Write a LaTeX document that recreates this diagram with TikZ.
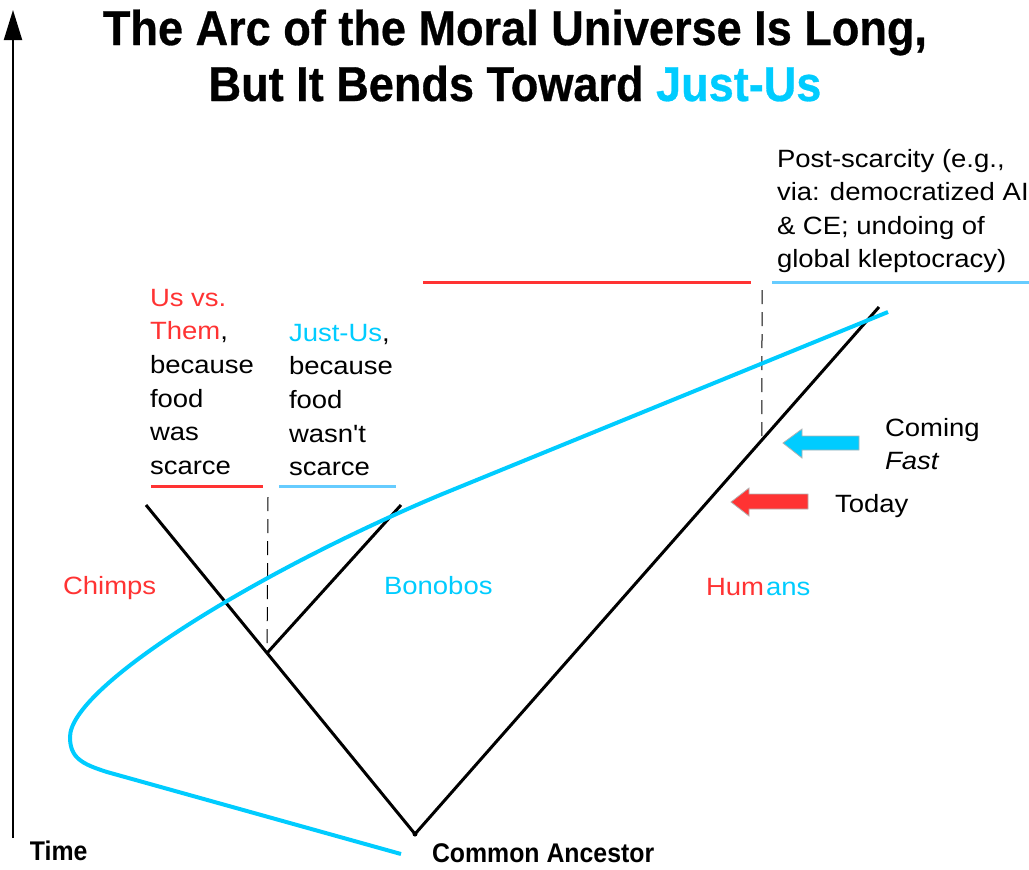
\documentclass[tikz,border=0pt]{standalone}
\usepackage{fontspec}
\setmainfont{Liberation Sans}
\newfontfamily\labelfont{Liberation Sans}[FakeStretch=1.1]
\newfontfamily\headfont{Liberation Sans Bold}[FakeStretch=0.92, FakeBold=0.6]
\newfontfamily\axisfont{Liberation Sans Bold}[FakeStretch=0.92]
\usepackage{tikz}
\usetikzlibrary{arrows.meta}
\usetikzlibrary{calc}
\definecolor{themred}{HTML}{FF3333}
\definecolor{justus}{HTML}{00CCFF}
\definecolor{justline}{HTML}{66CCFF}
\tikzstyle{branch}=[line width=1.5pt, black]
\tikzstyle{bendline}=[line width=2pt, justus]
\tikzstyle{epoch}=[line width=1.5pt]
\tikzstyle{cutline}=[line width=0.5pt, dash pattern=on 7pt off 4pt]
\tikzstyle{txt}=[inner sep=0pt, outer sep=0pt, align=left, font=\labelfont\fontsize{12.5}{16.8}\selectfont]
\tikzstyle{bigtxt}=[inner sep=0pt, outer sep=0pt, font=\headfont\fontsize{24.5}{28}\selectfont]
\tikzstyle{axistxt}=[inner sep=0pt, outer sep=0pt, font=\axisfont\fontsize{13.5}{16}\selectfont]
\tikzstyle{blockarrow}=[draw=gray!60, line width=0.4pt]

\begin{document}
\begin{tikzpicture}[x=0.5pt, y=-0.5pt]
    \useasboundingbox (0,0) rectangle (1029,869);
    % title
    \node[bigtxt, anchor=base] (title1) at (515,45) {The Arc of the Moral Universe Is Long,};
    \node[bigtxt, anchor=base] (title2) at (515,101) {But It Bends Toward \textcolor{justus}{Just-Us}};
    % time axis
    \coordinate (axisbottom) at (13,838);
    \coordinate (axistop) at (13,10);
    \draw[line width=1pt, -{Triangle[length=15pt, width=9pt]}] (axisbottom) -- (axistop);
    \node[axistxt, anchor=base west] (time) at (30,860) {Time};
    % tree
    \coordinate (ca) at (415,834);
    \coordinate (chimptip) at (146,505);
    \coordinate (bonobotip) at (401,505);
    \coordinate (humantip) at (879,307);
    \coordinate (split) at ($(ca)!0.55!(chimptip)$);
    \draw[branch] (chimptip) -- (ca) -- (humantip);
    \draw[branch] (split) -- (bonobotip);
    \fill (ca) circle (2.5);
    \node[axistxt, anchor=base west] (calabel) at (432,862) {Common Ancestor};
    % dashed markers
    \coordinate (cuttop1) at (268,497);
    \coordinate (cuttop2) at (762,290);
    \path (ca) -- (humantip) coordinate[pos=0.7478] (cutbottom2);
    \draw[cutline] (cuttop1) -- (split);
    \draw[cutline] (cuttop2) -- (cutbottom2);
    % underlines
    \coordinate (them1) at (151,486);
    \coordinate (them2) at (263,486);
    \coordinate (just1) at (279,486);
    \coordinate (just2) at (396,486);
    \coordinate (now1) at (423,282);
    \coordinate (now2) at (751,282);
    \coordinate (post1) at (772,282);
    \coordinate (post2) at (1029,282);
    \draw[epoch, themred] (them1) -- (them2);
    \draw[epoch, justline] (just1) -- (just2);
    \draw[epoch, themred] (now1) -- (now2);
    \draw[epoch, justline] (post1) -- (post2);
    % text blocks
    \node[txt, anchor=north west] (them) at (150,289) {\textcolor{themred}{Us vs.}\\\textcolor{themred}{Them},\\because\\food\\was\\scarce};
    \node[txt, anchor=north west] (justus) at (289,324) {\textcolor{justus}{Just-Us},\\because\\food\\wasn't\\scarce};
    \node[txt, anchor=north west] (post) at (777,149) {Post-scarcity (e.g.,\\via: democratized AI\\\& CE; undoing of\\global kleptocracy)};
    \node[txt, anchor=north west] (coming) at (885,418) {Coming\\\textit{Fast}};
    \node[txt, anchor=base west] (today) at (835,512) {Today};
    \node[txt, anchor=base west, text=themred] (chimps) at (63,594) {Chimps};
    \node[txt, anchor=base west, text=justus] (bonobos) at (384,594) {Bonobos};
    \node[txt, anchor=base west] (humans) at (706,595) {\textcolor{themred}{Hum}\kern1pt\textcolor{justus}{ans}};
    % block arrows
    \filldraw[blockarrow, fill=justus] (783,443) -- (802,429) -- (802,436) -- (859,436) -- (859,450) -- (802,450) -- (802,458) -- cycle;
    \filldraw[blockarrow, fill=themred] (731,502) -- (749,488) -- (749,494) -- (808,494) -- (808,509) -- (749,509) -- (749,516) -- cycle;
    % the bending arc
    \coordinate (arcstart) at (888,312);
    \coordinate (arcbend) at (440,495);
    \coordinate (arcleft) at (70,737);
    \coordinate (arcturn) at (107,772);
    \coordinate (arcend) at (401,854);
    \draw[bendline] (arcstart) -- (arcbend) .. controls (250,575) and (70,688) .. (arcleft) .. controls (70,758) and (82,764) .. (arcturn) -- (arcend);
\end{tikzpicture}
\end{document}
